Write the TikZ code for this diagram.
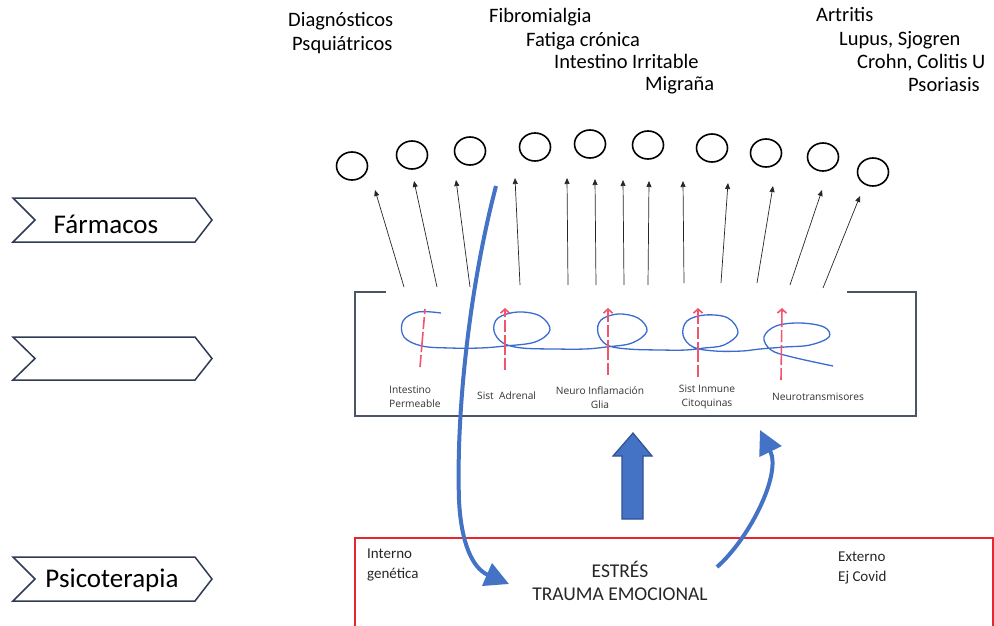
\documentclass[tikz,border=0pt]{standalone}
\usepackage{fontspec}
\setmainfont{Carlito}
\newfontfamily\lblfont{Open Sans}
\usetikzlibrary{arrows.meta,shapes.geometric}
\definecolor{navy}{HTML}{2F3B52}
\definecolor{slate}{HTML}{4A5568}
\definecolor{boxred}{HTML}{E8262B}
\definecolor{mblue}{HTML}{4472C4}
\definecolor{dblue}{HTML}{2F528F}
\definecolor{lblue}{HTML}{3A6BD0}
\definecolor{pinkred}{HTML}{F2546B}
\begin{document}
\begin{tikzpicture}[x=1pt,y=-1pt,
  circ/.style={draw, line width=1.6pt, ellipse, minimum width=31pt, minimum height=28pt, inner sep=0pt},
  thin arrow/.style={draw=black!85, line width=0.7pt, -{Triangle[length=6pt,width=5pt]}},
  redarrow/.style={draw=pinkred, line width=1.6pt, dash pattern=on 12pt off 3pt on 20pt off 3pt},
  redhead/.style={redarrow, -{Straight Barb[length=4pt,width=9pt]}},
  bigblue/.style={draw=mblue, line width=4pt, -{Triangle[length=24pt,width=24pt]}},
  chev/.style={draw=navy, line width=1.5pt, fill=white},
  toplbl/.style={font=\fontsize{20.5}{22}\selectfont, anchor=mid west, inner sep=0pt},
  chevlbl/.style={font=\fontsize{27}{29}\selectfont, inner sep=0pt},
  smalllbl/.style={font=\lblfont\fontsize{10.2}{14}\selectfont, inner sep=0pt, align=center, text=black!80},
  redlbl/.style={font=\fontsize{15}{20}\selectfont, inner sep=0pt, align=left, anchor=north west, text=black!85},
  mainlbl/.style={font=\fontsize{19.5}{23}\selectfont, inner sep=0pt, align=center, text=black!85}]
\useasboundingbox (0,0) rectangle (994,625);

% ---- top labels
\node[toplbl] (dx1) at (288,24) {Diagnósticos};
\node[toplbl] (dx2) at (292,48) {Psquiátricos};
\node[toplbl] (fib) at (489,20) {Fibromialgia};
\node[toplbl] (fat) at (526,44) {Fatiga crónica};
\node[toplbl] (ibs) at (554,66) {Intestino Irritable};
\node[toplbl] (mig) at (645,88) {Migraña};
\node[toplbl] (art) at (816,19) {Artritis};
\node[toplbl] (lup) at (839,43) {Lupus, Sjogren};
\node[toplbl] (cro) at (857,66) {Crohn, Colitis U};
\node[toplbl] (pso) at (908,89) {Psoriasis};

% ---- circles
\foreach \n/\x/\y in {1/352/166, 2/412/155, 3/470/151, 4/535/147, 5/590/144,
                      6/648/145, 7/712/148, 8/766/153, 9/823/157, 10/873/172}
  \node[circ] (c\n) at (\x,\y) {};

% ---- thin arrows
\foreach \n/\tx/\ty/\hx/\hy in {1/404/287/375/190, 2/437/287/414/181, 3/470/287/456/180,
    4/520/285/515/178, 5/568/285/567/178, 6/596/285/595/179, 7/624/285/623/180,
    8/648/285/649/181, 9/684/283/683/181, 10/721/283/728/183, 11/757/283/773/186,
    12/790/285/822/190, 13/823/288/860/196}{
  \coordinate (t\n) at (\tx,\ty);
  \coordinate (h\n) at (\hx,\hy);
  \draw[thin arrow] (t\n) -- (h\n);
}

% ---- chevrons
\draw[chev] (13,198) -- (195,198) -- (212,220) -- (195,242) -- (13,242) -- (35,220) -- cycle;
\node[chevlbl] (farm) at (106,224) {Fármacos};
\draw[chev] (13,337) -- (195,337) -- (212,358.5) -- (195,380) -- (13,380) -- (35,358.5) -- cycle;
\draw[chev] (13,557) -- (195,557) -- (212,579) -- (195,601) -- (13,601) -- (35,579) -- cycle;
\node[chevlbl] (psic) at (112,580) {Psicoterapia};

% ---- gray bracket box
\draw[slate, line width=2.2pt] (386,292) -- (355,292) -- (355,416) -- (916,416) -- (916,292) -- (847,292);

% ---- loop curve
\draw[lblue, line width=1.3pt] plot[smooth, tension=0.6] coordinates {
  (441,313) (418,312) (403,321) (404,337) (422,346) (450,348) (480,348)
  (505,346) (535,342) (550,330) (540,316) (518,312) (498,318) (494,331) (503,343) (522,348) (555,349) (585,349)
  (606,347) (632,343) (647,331) (638,318) (618,314) (601,320) (598,333) (607,345) (628,349) (660,350) (686,350)
  (704,348) (724,345) (738,333) (728,318) (705,315) (687,321) (683,335) (693,347) (715,351) (742,351) (760,349)
  (785,347) (810,345) (829,337) (824,327) (800,323) (776,326) (764,337) (771,350) (792,357) (833,366)};

% ---- red arrows
\coordinate (rb1) at (420,367); \coordinate (rt1) at (425,309);
\draw[redarrow] (rb1) -- (rt1);
\foreach \n/\bx/\by/\tx/\ty in {2/505/370/505/308, 3/608/375/608/308, 4/698/377/698/308, 5/781/380/782/308}{
  \coordinate (rb\n) at (\bx,\by);
  \coordinate (rt\n) at (\tx,\ty);
  \draw[redhead] (rb\n) -- (rt\n);
}

% ---- small labels
\node[smalllbl, align=left, anchor=north west] (l1) at (389,386) {Intestino\\Permeable};
\node[smalllbl, anchor=mid west] (l2) at (477,397) {Sist\ \ Adrenal};
\node[smalllbl, anchor=north] (l3) at (600,386) {Neuro Inflamación\\Glia};
\node[smalllbl, anchor=north] (l4) at (707,385) {Sist Inmune\\Citoquinas};
\node[smalllbl, anchor=mid west] (l5) at (772,398) {Neurotransmisores};

% ---- red box
\draw[boxred, line width=1.5pt] (355,626) -- (355,538) -- (993,538) -- (993,626);
\node[redlbl] (int) at (367,549) {Interno\\genética};
\node[redlbl] (ext) at (838,552) {Externo\\Ej Covid};
\node[mainlbl] (est) at (620,581) {ESTRÉS\\TRAUMA EMOCIONAL};

% ---- block arrow
\draw[dblue, line width=1.2pt, fill=mblue] (613,456) -- (633,433) -- (652,456) -- (643,456)
  -- (643,519) -- (622,519) -- (622,456) -- cycle;

% ---- blue curved arrows
\coordinate (b1s) at (496,186);
\coordinate (b1e) at (509,584);
\draw[bigblue] (b1s) .. controls (470,285) and (456,410) .. (459,500)
  .. controls (461,542) and (472,568) .. (b1e);
\coordinate (b2s) at (717,567);
\coordinate (b2e) at (760,430);
\draw[bigblue] (b2s) .. controls (748,540) and (782,475) .. (b2e);
\end{tikzpicture}
\end{document}
